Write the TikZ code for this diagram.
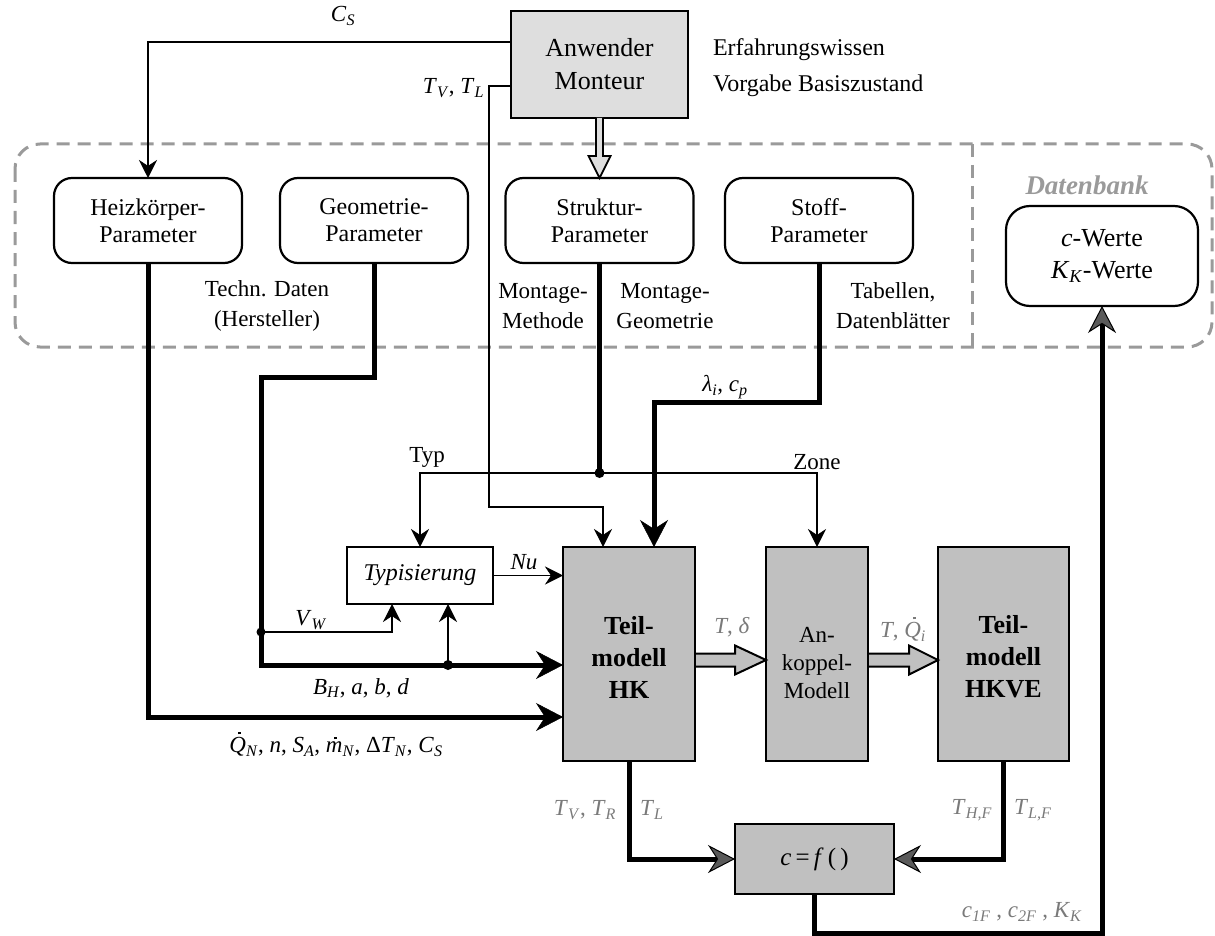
\documentclass[tikz,border=0pt]{standalone}
\usepackage{fontspec}
\setmainfont{Liberation Serif}
\usetikzlibrary{arrows.meta,calc}
\definecolor{boxgray}{HTML}{C0C0C0}
\definecolor{anwgray}{HTML}{DEDEDE}
\definecolor{dashgray}{HTML}{9A9A9A}
\definecolor{lblgray}{HTML}{7A7A7A}
\definecolor{headgray}{HTML}{5A5A5A}
\newcommand\vs[2]{\textit{#1}\textsubscript{\textit{#2}}}
\newcommand\dotQ{\ooalign{\textit{Q}\cr\hfil\hspace{0.15em}\raisebox{0.8em}{\rule{2.6pt}{2.6pt}}\hfil\cr}}
\newcommand\dotm{\ooalign{\textit{m}\cr\hfil\hspace{0.1em}\raisebox{0.58em}{\rule{2.6pt}{2.6pt}}\hfil\cr}}
\begin{document}
\begin{tikzpicture}[x=1pt,y=-1pt,
  every node/.style={inner sep=0pt, outer sep=0pt},
  lbl/.style={font=\fontsize{23}{30}\selectfont, align=center},
  param/.style={draw, line width=2.2pt, rounded corners=18pt, minimum width=188pt, minimum height=85pt, align=center, font=\fontsize{24}{27}\selectfont},
  gbox/.style={draw, line width=2.2pt, fill=boxgray, align=center},
  thinln/.style={line width=1.8pt},
  midln/.style={line width=2.6pt},
  thickln/.style={line width=5pt},
  tipS/.style={-{Stealth[length=18pt,width=18pt,inset=6pt,line width=0.5pt]}},
  tipL/.style={-{Stealth[length=27pt,width=28pt,inset=9pt,line width=0.5pt]}},
  tipD/.style={-{Stealth[length=27pt,width=28pt,inset=9pt,fill=headgray,line width=1pt]}},
  dashbox/.style={dashgray, line width=3pt, dash pattern=on 13pt off 8pt},
]
\useasboundingbox (0,0) rectangle (1215,936);

% dashed region
\draw[dashbox, rounded corners=25pt] (15,144) rectangle (1212,347);
\draw[dashbox] (972,144) -- (972,347);

% top node
\node[draw, line width=2.2pt, fill=anwgray, minimum width=177pt, minimum height=107pt, align=center, font=\fontsize{26}{33}\selectfont] (anw) at (599.5,64.5) {Anwender\\Monteur};
\node[anchor=west, font=\fontsize{24}{27}\selectfont] (erf) at (713,50) {Erfahrungswissen};
\node[anchor=west, font=\fontsize{24}{27}\selectfont] (vor) at (713,86) {Vorgabe Basiszustand};

% parameter boxes
\node[param] (hzp) at (148,220.5) {Heizkörper-\\Parameter};
\node[param] (geo) at (374,220.5) {Geometrie-\\Parameter};
\node[param] (str) at (599.5,220.5) {Struktur-\\Parameter};
\node[param] (stf) at (819,220.5) {Stoff-\\Parameter};
\node[param, minimum width=192pt, minimum height=100pt, rounded corners=24pt, font=\fontsize{26}{32}\selectfont] (db) at (1102,256) {\textit{c}-Werte\\\vs{K}{K}-Werte};
\node[font=\fontsize{27}{30}\selectfont\bfseries\itshape, text=dashgray] (dbl) at (1087,185) {Datenbank};

\node[lbl] (tech) at (267,306) {Techn. Daten\\(Hersteller)};
\node[lbl] (mm) at (543,306) {Montage-\\Methode};
\node[lbl] (mg) at (665,306) {Montage-\\Geometrie};
\node[lbl] (tab) at (893,306) {Tabellen,\\Datenblätter};

% lower blocks
\node[draw, line width=2.2pt, fill=white, minimum width=146pt, minimum height=57pt, font=\fontsize{24}{27}\selectfont\itshape] (typ) at (420,575.5) {Typisierung};
\node[gbox, minimum width=132pt, minimum height=214pt] (hk) at (629,654) {};
\node[font=\fontsize{26}{32}\selectfont\bfseries, align=center] (hkt) at (629,657) {Teil-\\modell\\HK};
\node[gbox, minimum width=102pt, minimum height=214pt] (ank) at (817,654) {};
\node[font=\fontsize{23}{28}\selectfont, align=center] (ankt) at (817,663) {An-\\koppel-\\Modell};
\node[gbox, minimum width=131pt, minimum height=214pt] (hkve) at (1003.5,654) {};
\node[font=\fontsize{26}{32}\selectfont\bfseries, align=center] (hkvet) at (1003.5,657) {Teil-\\modell\\HKVE};
\node[gbox, minimum width=159pt, minimum height=70pt, font=\fontsize{25}{27}\selectfont] (cf) at (814.5,859) {\textit{c}\,=\,\textit{f}\,(\,)};

% coordinates
\coordinate (csA) at (anw.west |- 0,42);
\coordinate (tvA) at (anw.west |- 0,86);
\coordinate (tvB) at (489,507);
\coordinate (hkin1) at ($(hk.north)+(-26,0)$);
\coordinate (hkin2) at ($(hk.north)+(25,0)$);
\coordinate (lamc) at (hkin2 |- 0,402);
\coordinate (sj) at (str.south |- 0,473);
\coordinate (qy) at (0,717);
\coordinate (by) at (0,665);
\coordinate (g1) at (261,377);
\coordinate (vwj) at (261,632);
\coordinate (bj) at (448,665);
\coordinate (typin1) at ($(typ.south)+(-28,0)$);
\coordinate (cb) at (db.south |- 0,933);

% connectors
\draw[thinln,tipS] (csA) -| (hzp.north);
\draw[thinln,tipS] (tvA) -| (tvB) -| (hkin1);
\draw[line width=1.8pt, fill=anwgray] ($(anw.south)+(-3.5,0)$) -- ($(str.north)+(-3.5,-22)$) -- ($(str.north)+(-11,-22)$) -- (str.north) -- ($(str.north)+(11,-22)$) -- ($(str.north)+(3.5,-22)$) -- ($(anw.south)+(3.5,0)$);
\draw[thickln,tipL] (hzp.south) |- (hk.west |- qy);
\draw[thickln,tipL] (geo.south) |- (g1) |- (hk.west |- by);
\draw[thickln] (str.south) -- (sj);
\draw[thinln,tipS] (sj) -| (typ.north);
\draw[thinln,tipS] (sj) -| (ank.north);
\draw[thickln,tipL] (stf.south) |- (lamc) -- (hkin2);
\draw[midln,tipS] (vwj) -| (typin1);
\draw[midln,tipS] (bj) -- (bj |- typ.south);
\draw[thinln,tipS] (typ.east) -- (typ.east -| hk.west);
\fill (sj) circle (5pt);
\fill (vwj) circle (4.5pt);
\fill (bj) circle (5pt);

% fat arrows
\coordinate (fa1) at ($(hk.east)+(0,6)$);
\coordinate (fa2) at ($(ank.west)+(0,6)$);
\draw[line width=2pt, fill=boxgray] ($(fa1)+(1,-6.5)$) -- ($(fa2)+(-31,-6.5)$) -- ($(fa2)+(-31,-14.5)$) -- (fa2) -- ($(fa2)+(-31,14.5)$) -- ($(fa2)+(-31,6.5)$) -- ($(fa1)+(1,6.5)$);
\coordinate (fb1) at ($(ank.east)+(0,6)$);
\coordinate (fb2) at ($(hkve.west)+(0,6)$);
\draw[line width=2pt, fill=boxgray] ($(fb1)+(1,-6.5)$) -- ($(fb2)+(-29,-6.5)$) -- ($(fb2)+(-29,-14.5)$) -- (fb2) -- ($(fb2)+(-29,14.5)$) -- ($(fb2)+(-29,6.5)$) -- ($(fb1)+(1,6.5)$);

\draw[thickln,tipD] (hk.south) |- (cf.west);
\draw[thickln,tipD] (hkve.south) |- (cf.east);
\draw[thickln,tipD] (cf.south) |- (cb) -- (db.south);

% labels
\node[lbl] (lcs) at (343,16) {\vs{C}{S}};
\node[lbl, anchor=east] (ltv) at (484,88) {\vs{T}{V}, \vs{T}{L}};
\node[lbl] (llam) at (725,387) {\textit{λ}\textsubscript{\textit{i}}, \vs{c}{p}};
\node[lbl] (ltyp) at (427,457) {Typ};
\node[lbl] (lzone) at (817,462) {Zone};
\node[lbl] (lnu) at (524,562) {\textit{Nu}};
\node[lbl] (lvw) at (311,620) {\vs{V}{W}};
\node[lbl] (lbh) at (361,688) {\vs{B}{H}, \textit{a}, \textit{b}, \textit{d}};
\node[lbl] (lq) at (336,747) {\dotQ\textsubscript{\textit{N}}, \textit{n}, \vs{S}{A}, \dotm\textsubscript{\textit{N}}, Δ\vs{T}{N}, \vs{C}{S}};
\node[lbl, text=lblgray] (ltd) at (732,627) {\textit{T}, \textit{δ}};
\node[lbl, text=lblgray] (ltq) at (903,632) {\textit{T}, \dotQ\textsubscript{\textit{i}}};
\node[lbl, text=lblgray, anchor=east] (ltvr) at (616,810) {\vs{T}{V}, \vs{T}{R}};
\node[lbl, text=lblgray, anchor=west] (ltl) at (640,810) {\vs{T}{L}};
\node[lbl, text=lblgray, anchor=east] (lthf) at (992,810) {\vs{T}{H,F}};
\node[lbl, text=lblgray, anchor=west] (ltlf) at (1014,810) {\vs{T}{L,F}};
\node[lbl, text=lblgray] (lc) at (1022,912) {\vs{c}{1F} , \vs{c}{2F} , \vs{K}{K}};
\end{tikzpicture}
\end{document}
